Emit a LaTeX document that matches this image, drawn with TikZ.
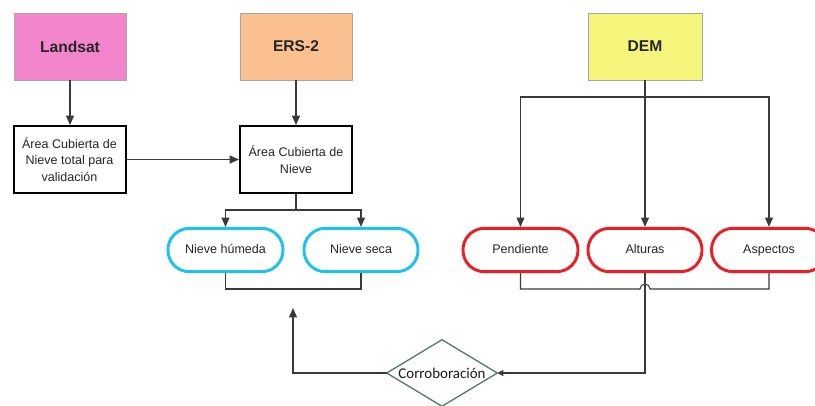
\documentclass[tikz,border=0pt]{standalone}
\usepackage{fontspec}
\setmainfont{Liberation Sans}
\newfontfamily\calib{Carlito}
\usetikzlibrary{arrows.meta,calc}
\definecolor{cpink}{HTML}{F285CC}
\definecolor{corange}{HTML}{FAC08F}
\definecolor{cyell}{HTML}{F5F57C}
\definecolor{ccyan}{HTML}{1CC3EE}
\definecolor{cred}{HTML}{EE1C25}
\definecolor{cline}{HTML}{3A3A3A}
\definecolor{cdia}{HTML}{527C6C}
\tikzset{
  srcbox/.style={draw=gray!70, line width=0.6pt, minimum width=84pt, minimum height=50.25pt, inner sep=0pt, font=\fontsize{11.7pt}{13pt}\selectfont\bfseries, text=black!85},
  procbox/.style={draw=black, line width=1.5pt, fill=white, minimum width=84pt, minimum height=50.25pt, inner sep=2pt, align=center, font=\fontsize{9.4pt}{12.5pt}\selectfont, text=black!85},
  oval/.style={draw, line width=2.2pt, fill=white, minimum width=84pt, minimum height=32.5pt, rounded corners=16pt, inner sep=0pt, text height=7pt, text depth=2pt, font=\fontsize{9.4pt}{11pt}\selectfont, text=black!85},
  dia/.style={minimum width=82.5pt, minimum height=49.5pt, inner sep=0pt, font=\calib\fontsize{11.2pt}{13pt}\selectfont, text=black!90},
  conn/.style={draw=cline, line width=0.8pt},
  arr/.style={conn, -{Triangle[length=7pt,width=6pt]}},
  sarr/.style={conn, -{Triangle[length=4.5pt,width=4.5pt]}}
}
\begin{document}
\begin{tikzpicture}[x=0.75pt,y=-0.75pt]
\useasboundingbox (0,0) rectangle (815,405);
\clip (0,0) rectangle (815,405);
\fill[white] (0,0) rectangle (815,405);

% source boxes
\node[srcbox, fill=cpink] (landsat) at (70,46.5) {Landsat};
\node[srcbox, fill=corange] (ers) at (296,46.5) {ERS-2};
\node[srcbox, fill=cyell, minimum width=85.5pt] (dem) at (645,46.5) {DEM};

% process boxes
\node[procbox] (boxA) at (69.5,159.5) {Área Cubierta de\\Nieve total para\\validación};
\node[procbox] (boxB) at (296,159.5) {Área Cubierta de\\Nieve};

% ovals
\node[oval, draw=ccyan, minimum width=86.25pt] (hum) at (225.5,250) {Nieve húmeda};
\node[oval, draw=ccyan, minimum width=85.5pt] (seca) at (361,250) {Nieve seca};
\node[oval, draw=cred, minimum width=86.25pt] (pend) at (520.5,250) {Pendiente};
\node[oval, draw=cred, minimum width=85.5pt] (alt) at (645,250) {Alturas};
\node[oval, draw=cred, minimum width=86.25pt] (asp) at (769,250) {Aspectos};

% diamond
\node[dia] (cor) at (442,373) {Corroboración};
\draw[draw=cdia, line width=1pt] (cor.north) -- (cor.east) -- (cor.south) -- (cor.west) -- cycle;

% coordinates
\coordinate (j1) at (296,210);
\coordinate (j3) at (645,97);
\coordinate (up) at (293,308);
\coordinate (lowy) at (0,289);

% connectors left
\draw[arr] (landsat.south) -- (landsat.south |- boxA.north);
\draw[arr] (boxA.east) -- (boxB.west);
\draw[arr] (ers.south) -- (boxB.north);
\draw[conn] (boxB.south) -- (j1);
\draw[arr] (j1) -| (hum.north);
\draw[arr] (j1) -| (seca.north);
\draw[conn] (hum.south) -- (hum.south |- lowy) -- (seca.south |- lowy) -- (seca.south);
\draw[arr] (cor.west) -| (up);

% connectors right
\draw[conn] (dem.south) -- (j3);
\draw[arr] (j3) -| (pend.north);
\draw[arr] (j3) -| (asp.north);
\draw[arr] (j3) -- (alt.north);
\draw[conn] (pend.south) -- (pend.south |- lowy) -- ($(alt.south |- lowy)+(-5,0)$)
  arc[start angle=180, end angle=0, radius=3.75pt] -- (asp.south |- lowy) -- (asp.south);
\draw[sarr] (alt.south) |- (cor.east);
\end{tikzpicture}
\end{document}
